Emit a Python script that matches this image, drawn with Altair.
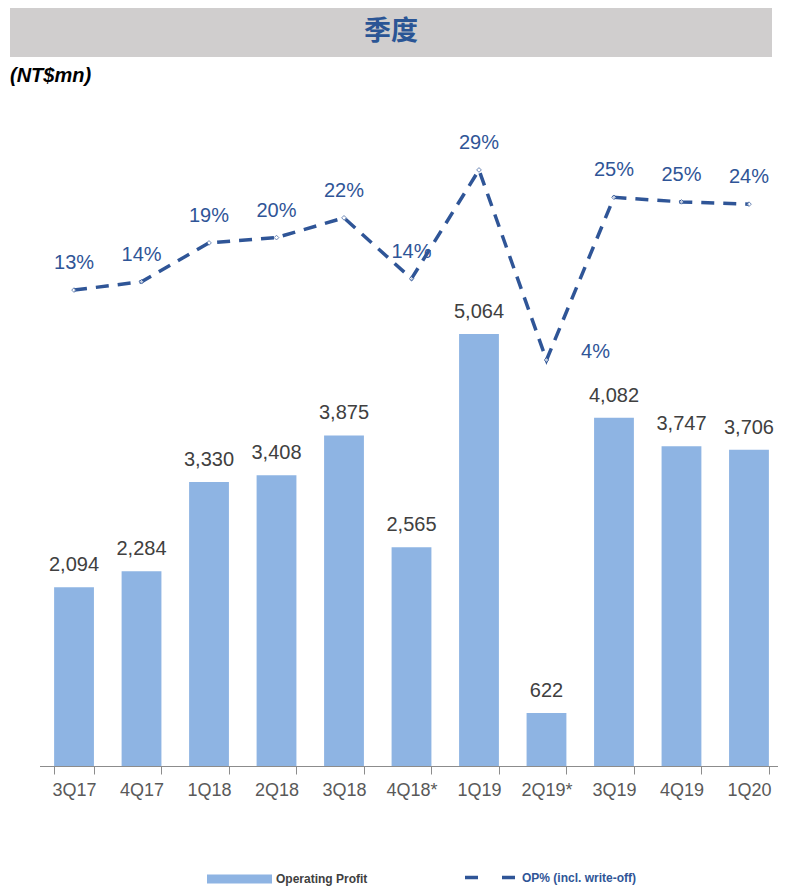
import altair as alt
import pandas as pd

quarters = ["3Q17", "4Q17", "1Q18", "2Q18", "3Q18", "4Q18*", "1Q19", "2Q19*", "3Q19", "4Q19", "1Q20"]
op_profit = [2094, 2284, 3330, 3408, 3875, 2565, 5064, 622, 4082, 3747, 3706]
op_pct = [13.2, 14.3, 19.4, 20.1, 22.7, 14.7, 29.0, 4.0, 25.4, 24.8, 24.5]
op_pct_labels = ["13%", "14%", "19%", "20%", "22%", "14%", "29%", "4%", "25%", "25%", "24%"]

BAR_NAME = "Operating Profit"
LINE_NAME = "OP% (incl. write-off)"
BAR_COLOR = "#8eb4e3"
LINE_COLOR = "#2f5597"
AXIS_GRAY = "#8c8c8c"
FONT = "Liberation Sans"

W, H = 733, 666

df = pd.DataFrame({
    "q": quarters,
    "op": op_profit,
    "pct": op_pct,
    "pct_label": op_pct_labels,
    "bar_series": BAR_NAME,
    "line_series": LINE_NAME,
})

x_enc = alt.X(
    "q:N",
    sort=quarters,
    scale=alt.Scale(paddingInner=0.41, paddingOuter=0.135),
    axis=alt.Axis(
        title=None, labelAngle=0, labelFont=FONT, labelFontSize=18,
        labelColor="#595959", labelPadding=7, tickSize=8, tickBand="extent",
        tickColor=AXIS_GRAY, tickWidth=1, domain=False, grid=False,
    ),
)
y_bar = alt.Y("op:Q", scale=alt.Scale(domain=[0, 7807], nice=False, zero=True), axis=None)
y_line = alt.Y("pct:Q", scale=alt.Scale(domain=[-49.4, 38.2], nice=False, zero=False), axis=None)

base = alt.Chart(df)

bars = base.mark_bar().encode(
    x=x_enc,
    y=y_bar,
    fill=alt.Fill(
        "bar_series:N",
        scale=alt.Scale(domain=[BAR_NAME], range=[BAR_COLOR]),
        legend=alt.Legend(
            title=None, orient="none", legendX=162, legendY=746.5, padding=0,
            symbolType="M-1,-0.14L1,-0.14L1,0.14L-1,0.14Z", symbolSize=4225,
            symbolStrokeWidth=0, labelFont=FONT, labelFontSize=12,
            labelFontWeight="bold", labelColor="#404040", labelOffset=4,
        ),
    ),
)

bar_text = base.mark_text(
    font=FONT, fontSize=20, color="#404040", baseline="middle", dy=-22
).encode(x=x_enc, y=y_bar, text=alt.Text("op:Q", format=",d"))

line = base.mark_line(strokeWidth=3.5, strokeDash=[13, 9]).encode(
    x=x_enc,
    y=y_line,
    stroke=alt.Stroke(
        "line_series:N",
        scale=alt.Scale(domain=[LINE_NAME], range=[LINE_COLOR]),
        legend=alt.Legend(
            title=None, orient="none", legendX=418, legendY=750.5, padding=0,
            symbolType="stroke", symbolSize=2500, symbolStrokeWidth=3.5,
            symbolDash=[13, 24], labelFont=FONT, labelFontSize=12,
            labelFontWeight="bold", labelColor=LINE_COLOR, labelOffset=5,
        ),
    ),
)

points = base.mark_point(
    shape="diamond", size=22, filled=True, fill="white", stroke=LINE_COLOR, strokeWidth=1
).encode(x=x_enc, y=y_line)

pct_text = base.transform_filter(alt.datum.pct_label != "4%").mark_text(
    font=FONT, fontSize=20, color=LINE_COLOR, baseline="middle", dy=-27
).encode(x=x_enc, y=y_line, text="pct_label:N")

pct_text_low = base.transform_filter(alt.datum.pct_label == "4%").mark_text(
    font=FONT, fontSize=20, color=LINE_COLOR, baseline="middle", dx=49, dy=-8
).encode(x=x_enc, y=y_line, text="pct_label:N")

one = alt.Data(values=[{"k": 1}])
baseline_rule = alt.Chart(one).mark_rule(color=AXIS_GRAY, strokeWidth=1).encode(
    x=alt.value(-5), x2=alt.value(W), y=alt.value(H + 0.5)
)
banner = alt.Chart(one).mark_rect(color="#d0cece").encode(
    x=alt.value(-35), x2=alt.value(727), y=alt.value(-92), y2=alt.value(-43)
)
banner_text = alt.Chart(one).mark_text(
    text="季度", font="Noto Sans CJK SC", fontSize=27, fontWeight="bold",
    color="#2a5595", align="center", baseline="middle",
).encode(x=alt.value(346), y=alt.value(-68))
unit_text = alt.Chart(one).mark_text(
    text="(NT$mn)", font=FONT, fontSize=20, fontWeight="bold", fontStyle="italic",
    color="#000000", align="left", baseline="middle",
).encode(x=alt.value(-35), y=alt.value(-24))

chart = alt.layer(
    banner, banner_text, unit_text, bars, baseline_rule, bar_text, line, points,
    pct_text, pct_text_low
).resolve_scale(y="independent").properties(
    width=W, height=H,
    autosize=alt.AutoSizeParams(type="none"),
    padding={"left": 37, "top": 92, "right": 0, "bottom": 121},
).configure_view(stroke=None)

chart.save("out.html", embed_options={"renderer": "svg", "actions": False})
